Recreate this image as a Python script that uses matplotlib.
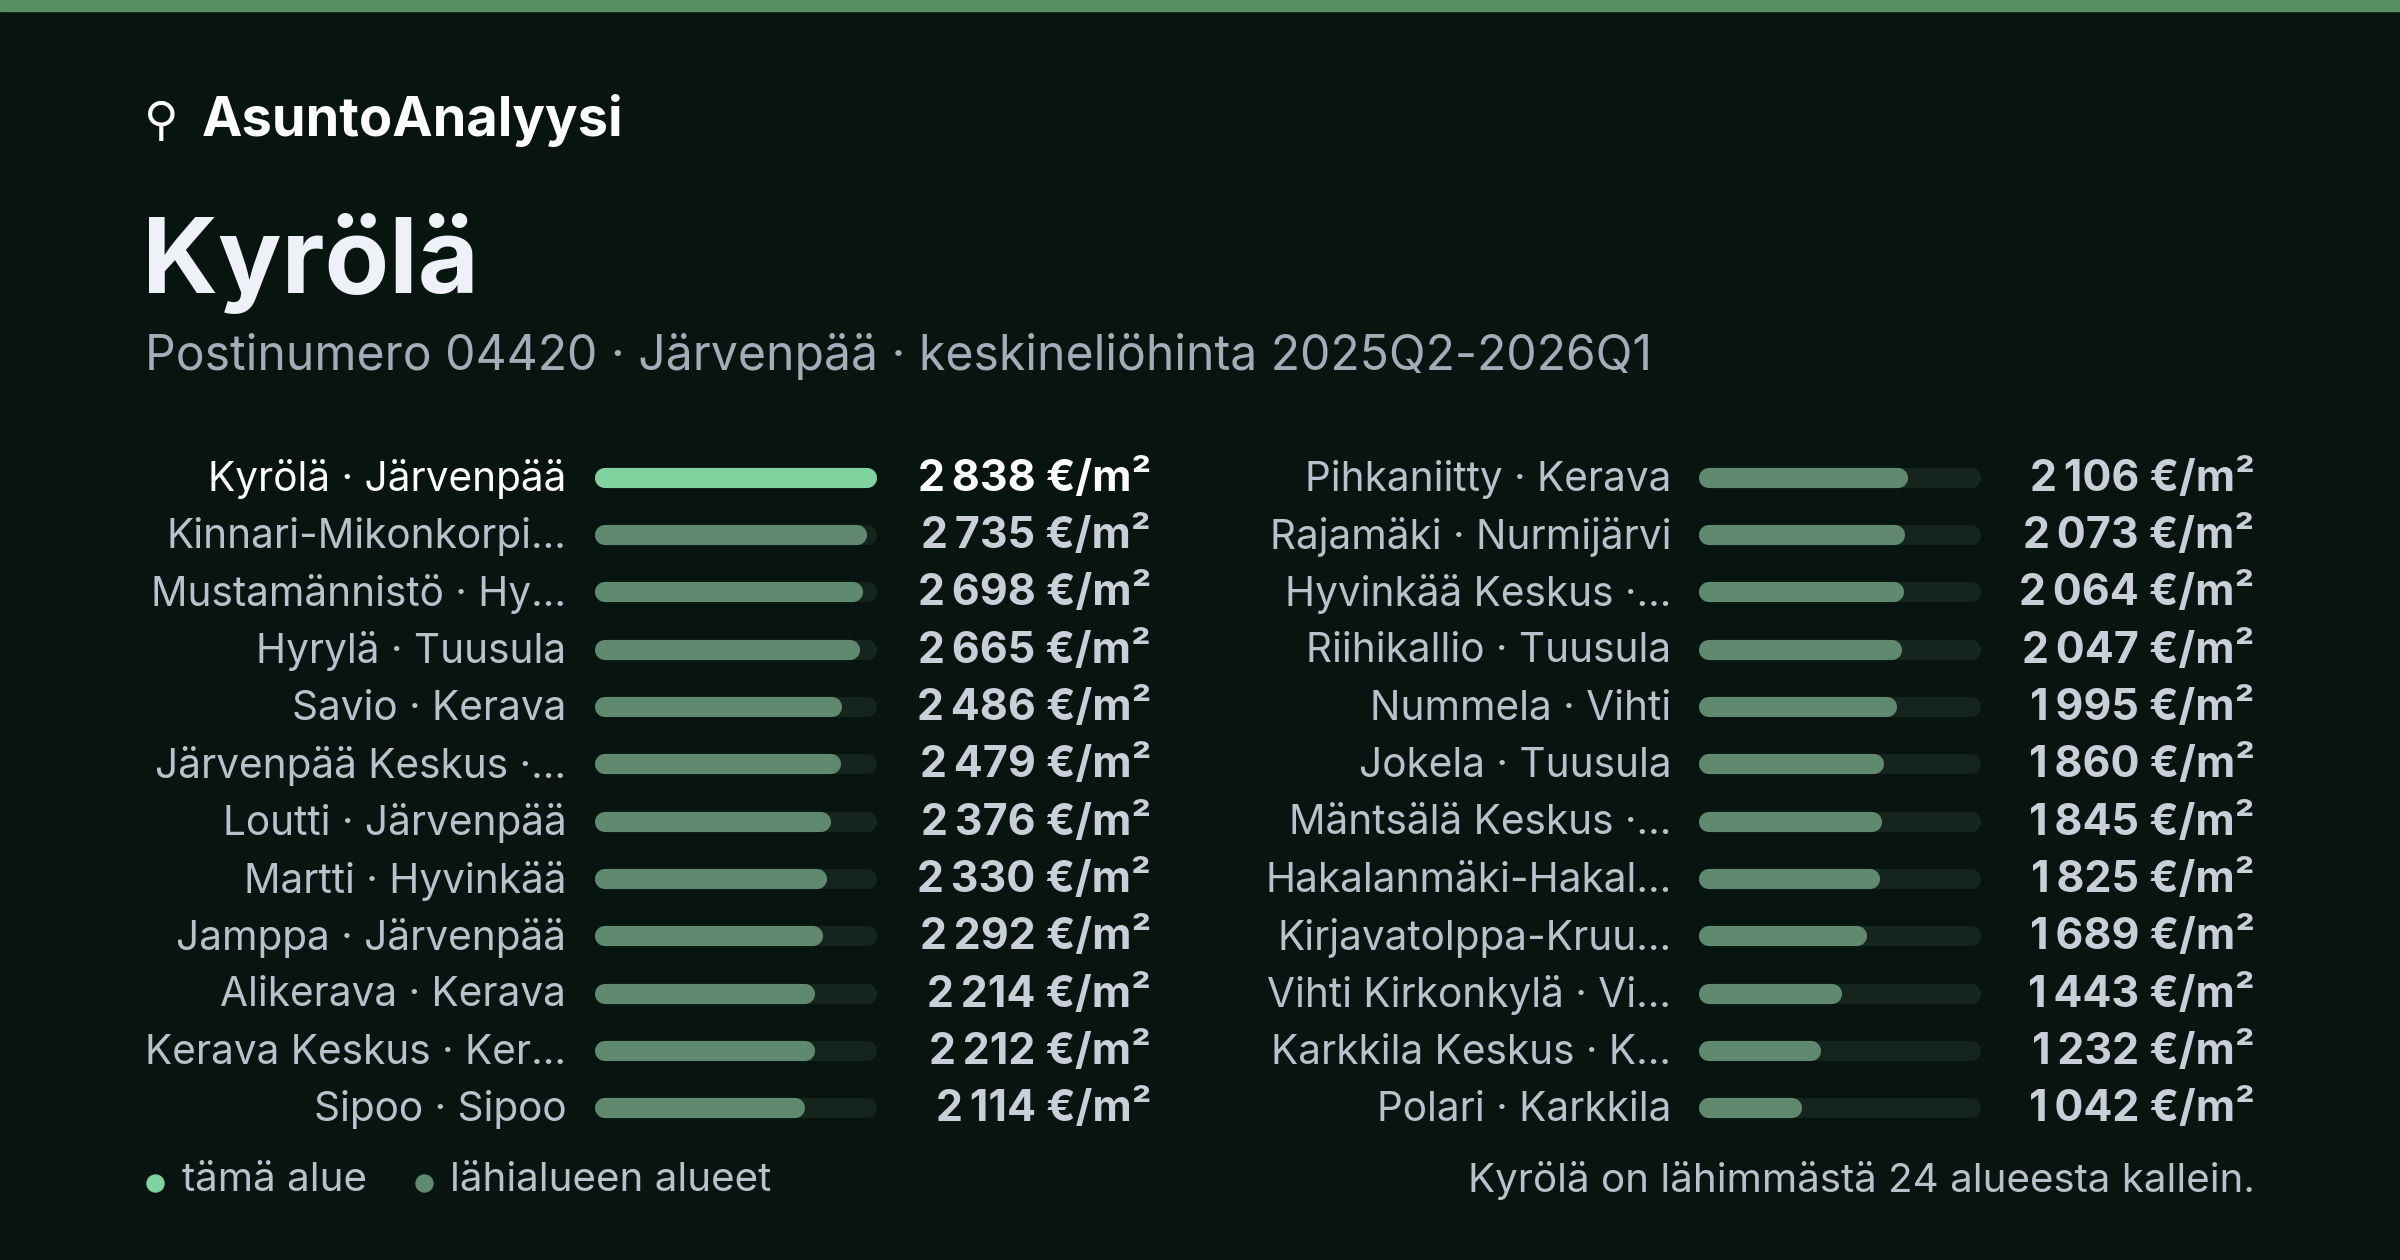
import matplotlib
matplotlib.use("Agg")
import matplotlib.pyplot as plt

plt.rcParams['font.family'] = ['Inter', 'DejaVu Sans']

left_labels = ["Kyrölä · Järvenpää", "Kinnari-Mikonkorpi…", "Mustamännistö · Hy…", "Hyrylä · Tuusula",
               "Savio · Kerava", "Järvenpää Keskus ·…", "Loutti · Järvenpää", "Martti · Hyvinkää",
               "Jamppa · Järvenpää", "Alikerava · Kerava", "Kerava Keskus · Ker…", "Sipoo · Sipoo"]
left_values = [2838, 2735, 2698, 2665, 2486, 2479, 2376, 2330, 2292, 2214, 2212, 2114]
right_labels = ["Pihkaniitty · Kerava", "Rajamäki · Nurmijärvi", "Hyvinkää Keskus ·…", "Riihikallio · Tuusula",
                "Nummela · Vihti", "Jokela · Tuusula", "Mäntsälä Keskus ·…", "Hakalanmäki-Hakal…",
                "Kirjavatolppa-Kruu…", "Vihti Kirkonkylä · Vi…", "Karkkila Keskus · K…", "Polari · Karkkila"]
right_values = [2106, 2073, 2064, 2047, 1995, 1860, 1845, 1825, 1689, 1443, 1232, 1042]

BG = "#08140f"
HL = "#7fd39f"
OTHER = "#5f8a6f"
TRACK = "#15241c"
LABEL = "#b9c1cc"
VALUE = "#c9ced8"

W, H = 1568, 823
fig = plt.figure(figsize=(24, 12.6), dpi=100, facecolor=BG)
ax = fig.add_axes([0, 0, 1, 1])
ax.set_xlim(0, W); ax.set_ylim(H, 0); ax.axis("off")
ax.set_facecolor(BG)
ax.axhspan(0, 7, color="#5a8f64")

ax.text(94, 80, "⚲", color="white", fontsize=34, va="center", ha="left", family=['DejaVu Sans'])
ax.text(132, 79, "AsuntoAnalyysi", color="white", fontsize=39, fontweight="bold", va="center")
ax.text(93, 172, "Kyrölä", color="#eef1f7", fontsize=76, fontweight="bold", va="center")
ax.text(95, 233, "Postinumero 04420 · Järvenpää · keskineliöhinta 2025Q2-2026Q1", color="#a3acb9",
        fontsize=34.6, va="center")

vmax = max(left_values + right_values)
def fmt(v):
    return f"{v:,}".replace(",", "\u2009") + " €/m²"

lw = 14.5
cap = 6.5
def column(labels, values, lab_x, bar_x0, bar_w, val_x, first_hl):
    for i, (l, v) in enumerate(zip(labels, values)):
        y = 312 + i * 37.45
        hl = first_hl and i == 0
        ax.plot([bar_x0 + cap, bar_x0 + bar_w - cap], [y, y], color=TRACK, lw=lw, solid_capstyle="round")
        ax.plot([bar_x0 + cap, bar_x0 + bar_w * v / vmax - cap], [y, y], color=HL if hl else OTHER,
                lw=lw, solid_capstyle="round")
        ax.text(lab_x, y + 1, l, ha="right", va="center", fontsize=29.2, color="white" if hl else LABEL)
        ax.text(val_x, y + 1, fmt(v), ha="right", va="center", fontsize=31, fontweight="bold",
                color="white" if hl else VALUE)

column(left_labels, left_values, 370, 389, 184, 752, True)
column(right_labels, right_values, 1092, 1110, 184, 1473, False)

ax.scatter([101], [773], s=150, color=HL)
ax.text(119, 771, "tämä alue", fontsize=29, color=LABEL, va="center")
ax.scatter([277], [773], s=150, color=OTHER)
ax.text(294, 771, "lähialueen alueet", fontsize=29, color=LABEL, va="center")
ax.text(1473, 771, "Kyrölä on lähimmästä 24 alueesta kallein.", fontsize=29, color=LABEL, va="center", ha="right")

fig.savefig("out.png", dpi=100, facecolor=BG)
